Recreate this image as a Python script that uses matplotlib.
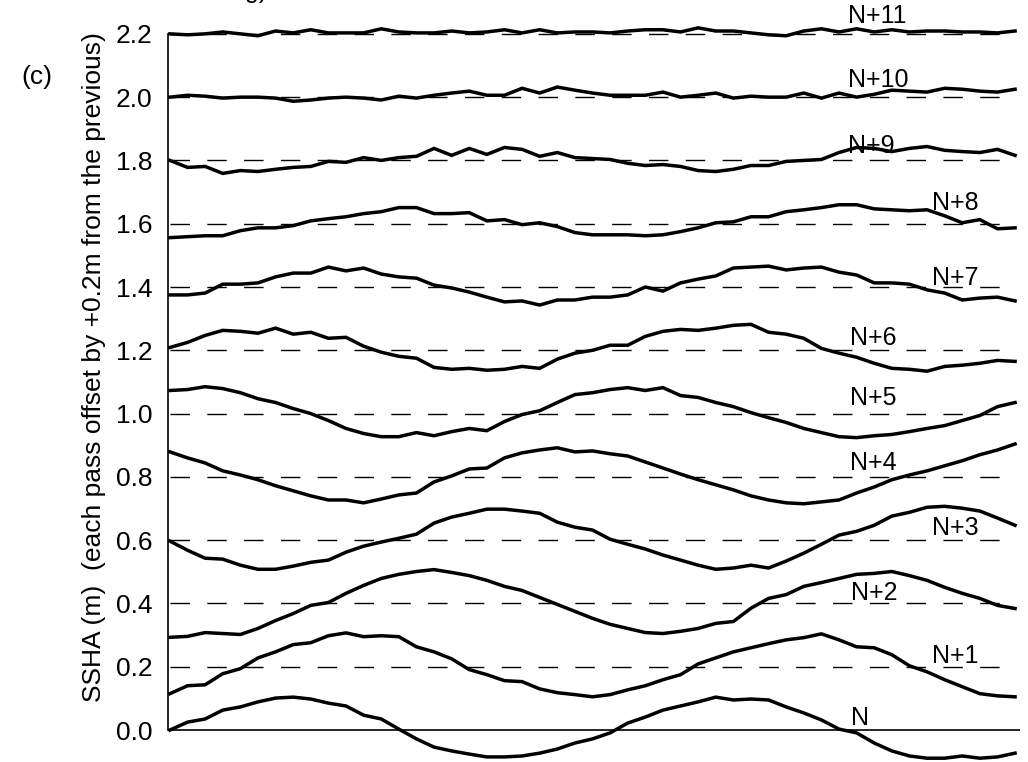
import numpy as np
import matplotlib
matplotlib.use("Agg")
import matplotlib.pyplot as plt

plt.rcParams["font.family"] = ["Liberation Sans", "DejaVu Sans"]

# SSHA along track (m) for successive passes
track_idx = np.arange(49)

pass_n = [0.000, 0.025, 0.035, 0.063, 0.073, 0.089, 0.101, 0.104, 0.098, 0.085,
          0.076, 0.047, 0.035, 0.003, -0.028, -0.054, -0.066, -0.076, -0.085, -0.085,
          -0.082, -0.073, -0.060, -0.041, -0.028, -0.009, 0.022, 0.041, 0.063, 0.076,
          0.089, 0.104, 0.095, 0.098, 0.095, 0.073, 0.054, 0.032, 0.003, -0.009,
          -0.041, -0.066, -0.082, -0.089, -0.089, -0.082, -0.089, -0.085, -0.073]
pass_n1 = [-0.085, -0.060, -0.057, -0.022, -0.006, 0.028, 0.047, 0.070, 0.076, 0.098,
           0.107, 0.095, 0.098, 0.095, 0.063, 0.047, 0.025, -0.009, -0.025, -0.044,
           -0.047, -0.070, -0.082, -0.088, -0.095, -0.088, -0.073, -0.060, -0.041, -0.025,
           0.009, 0.028, 0.047, 0.060, 0.073, 0.085, 0.092, 0.104, 0.085, 0.063,
           0.060, 0.038, 0.003, -0.016, -0.041, -0.063, -0.085, -0.092, -0.095]
pass_n2 = [-0.107, -0.104, -0.092, -0.095, -0.098, -0.079, -0.054, -0.032, -0.006, 0.003,
           0.032, 0.057, 0.079, 0.092, 0.101, 0.107, 0.098, 0.088, 0.073, 0.054,
           0.041, 0.019, -0.003, -0.025, -0.047, -0.066, -0.079, -0.092, -0.095, -0.088,
           -0.079, -0.063, -0.057, -0.015, 0.016, 0.028, 0.054, 0.066, 0.079, 0.092,
           0.095, 0.101, 0.088, 0.073, 0.051, 0.032, 0.016, -0.006, -0.016]
pass_n3 = [-0.003, -0.032, -0.057, -0.060, -0.079, -0.092, -0.092, -0.082, -0.070, -0.063,
           -0.038, -0.019, -0.006, 0.006, 0.019, 0.054, 0.073, 0.085, 0.098, 0.098,
           0.092, 0.085, 0.057, 0.041, 0.032, 0.003, -0.013, -0.028, -0.047, -0.063,
           -0.079, -0.092, -0.088, -0.079, -0.088, -0.066, -0.041, -0.013, 0.016, 0.028,
           0.047, 0.076, 0.088, 0.104, 0.107, 0.101, 0.092, 0.070, 0.047]
pass_n4 = [0.079, 0.060, 0.044, 0.019, 0.006, -0.009, -0.028, -0.044, -0.060, -0.073,
           -0.073, -0.082, -0.070, -0.057, -0.051, -0.016, 0.003, 0.025, 0.028, 0.060,
           0.076, 0.085, 0.092, 0.079, 0.082, 0.073, 0.066, 0.047, 0.028, 0.009,
           -0.009, -0.025, -0.041, -0.060, -0.073, -0.082, -0.085, -0.079, -0.073, -0.051,
           -0.032, -0.009, 0.006, 0.019, 0.035, 0.051, 0.070, 0.085, 0.104]
pass_n5 = [0.073, 0.076, 0.085, 0.079, 0.066, 0.047, 0.035, 0.016, 0.000, -0.022,
           -0.047, -0.063, -0.073, -0.073, -0.060, -0.070, -0.057, -0.047, -0.054, -0.025,
           -0.003, 0.009, 0.035, 0.060, 0.066, 0.076, 0.082, 0.073, 0.082, 0.057,
           0.051, 0.035, 0.022, 0.003, -0.013, -0.028, -0.047, -0.060, -0.073, -0.076,
           -0.070, -0.066, -0.057, -0.047, -0.038, -0.022, -0.006, 0.022, 0.035]
pass_n6 = [0.009, 0.025, 0.047, 0.063, 0.060, 0.054, 0.070, 0.051, 0.057, 0.038,
           0.041, 0.013, -0.006, -0.019, -0.025, -0.054, -0.060, -0.057, -0.063, -0.060,
           -0.051, -0.057, -0.028, -0.009, 0.000, 0.016, 0.016, 0.044, 0.060, 0.066,
           0.063, 0.070, 0.079, 0.082, 0.057, 0.051, 0.038, 0.006, -0.009, -0.022,
           -0.041, -0.057, -0.060, -0.066, -0.051, -0.047, -0.041, -0.032, -0.035]
pass_n7 = [-0.025, -0.025, -0.019, 0.009, 0.009, 0.013, 0.032, 0.044, 0.044, 0.063,
           0.051, 0.060, 0.041, 0.032, 0.028, 0.006, -0.003, -0.016, -0.032, -0.047,
           -0.044, -0.057, -0.041, -0.041, -0.032, -0.032, -0.025, 0.000, -0.013, 0.013,
           0.025, 0.035, 0.060, 0.063, 0.066, 0.054, 0.060, 0.063, 0.047, 0.038,
           0.013, 0.013, 0.009, -0.009, -0.019, -0.041, -0.035, -0.032, -0.044]
pass_n8 = [-0.044, -0.041, -0.038, -0.038, -0.022, -0.013, -0.013, -0.006, 0.009, 0.016,
           0.022, 0.032, 0.038, 0.051, 0.051, 0.032, 0.032, 0.035, 0.009, 0.013,
           -0.003, 0.003, -0.009, -0.028, -0.035, -0.035, -0.035, -0.038, -0.035, -0.025,
           -0.013, 0.003, 0.006, 0.022, 0.022, 0.038, 0.044, 0.051, 0.060, 0.060,
           0.047, 0.044, 0.041, 0.044, 0.025, 0.003, 0.013, -0.016, -0.013]
pass_n9 = [0.000, -0.022, -0.019, -0.041, -0.032, -0.035, -0.028, -0.022, -0.019, -0.003,
           -0.006, 0.009, 0.000, 0.009, 0.013, 0.038, 0.016, 0.038, 0.019, 0.041,
           0.035, 0.013, 0.025, 0.009, 0.006, 0.003, -0.009, -0.016, -0.013, -0.019,
           -0.032, -0.035, -0.028, -0.016, -0.016, -0.003, 0.000, 0.003, 0.025, 0.041,
           0.038, 0.028, 0.038, 0.044, 0.032, 0.028, 0.025, 0.035, 0.016]
pass_n10 = [0.000, 0.006, 0.003, -0.003, 0.000, 0.000, -0.003, -0.013, -0.009, -0.003,
            0.000, -0.003, -0.009, 0.003, -0.003, 0.006, 0.013, 0.019, 0.006, 0.006,
            0.028, 0.013, 0.032, 0.022, 0.013, 0.006, 0.006, 0.006, 0.016, 0.000,
            0.006, 0.013, -0.003, 0.003, 0.000, 0.000, 0.013, -0.003, 0.013, 0.000,
            0.009, 0.022, 0.019, 0.016, 0.028, 0.025, 0.019, 0.016, 0.025]
pass_n11 = [0.000, -0.003, 0.000, 0.006, 0.000, -0.006, 0.009, 0.003, 0.013, 0.003,
            0.003, 0.003, 0.016, 0.006, 0.003, 0.003, 0.009, 0.003, 0.006, 0.013,
            0.003, 0.013, 0.003, 0.006, 0.006, 0.003, 0.009, 0.013, 0.013, 0.006,
            0.019, 0.009, 0.009, 0.003, -0.003, -0.006, 0.009, 0.016, 0.006, 0.016,
            0.006, 0.013, 0.006, 0.009, 0.009, 0.006, 0.006, 0.003, 0.009]

passes = [pass_n, pass_n1, pass_n2, pass_n3, pass_n4, pass_n5,
          pass_n6, pass_n7, pass_n8, pass_n9, pass_n10, pass_n11]
pass_labels = ["N", "N+1", "N+2", "N+3", "N+4", "N+5",
               "N+6", "N+7", "N+8", "N+9", "N+10", "N+11"]
OFFSET = 0.2
yticks = [0.0, 0.2, 0.4, 0.6, 0.8, 1.0, 1.2, 1.4, 1.6, 1.8, 2.0, 2.2]

# label placement (track index, height in plot units)
label_x = [38.7, 43.3, 38.7, 43.3, 38.6, 38.6, 38.6, 43.3, 43.3, 38.5, 38.5, 38.5]
label_y = [0.016, 0.212, 0.411, 0.616, 0.822, 1.027, 1.217, 1.406, 1.643, 1.824, 2.032, 2.234]

fig = plt.figure(figsize=(10.28, 7.62), dpi=100)
ax = fig.add_axes([168 / 1028, 0.0, 852 / 1028, 1.0])
ax.set_xlim(-0.11, 48.28)
ax.set_ylim(-0.101, 2.307)

# reference levels
for k in range(1, len(passes)):
    ax.plot([0, 47.2], [k * OFFSET, k * OFFSET], color="black", lw=1.0,
            linestyle=(0, (14.0, 12.5)), zorder=1)
ax.axhline(0.0, color="black", lw=1.2, zorder=1)

for k, ssha in enumerate(passes):
    ax.plot(track_idx, np.array(ssha) + k * OFFSET, color="black", lw=2.5,
            solid_joinstyle="miter", zorder=3)
    ax.text(label_x[k], label_y[k], pass_labels[k], fontsize=18,
            ha="left", va="baseline", zorder=4)

for s in ["top", "right", "bottom"]:
    ax.spines[s].set_visible(False)
ax.spines["left"].set_bounds(0, 2.2)
ax.spines["left"].set_linewidth(1.2)
ax.set_xticks([])
ax.set_yticks(yticks)
ax.set_yticklabels([f"{v:.1f}" for v in yticks], fontsize=19)
ax.tick_params(axis="y", length=0, pad=11)

fig.text(94 / 1028, 1 - 367 / 762,
         "SSHA (m)  (each pass offset by +0.2m from the previous)",
         rotation=90, ha="center", va="center", fontsize=19)
fig.text(37 / 1028, 1 - 77 / 762, "(c)", ha="center", va="center", fontsize=19)
fig.text(245 / 1028, 1 + 2 / 762, "g)", ha="left", va="baseline", fontsize=18)

fig.savefig("out.png", dpi=100)
